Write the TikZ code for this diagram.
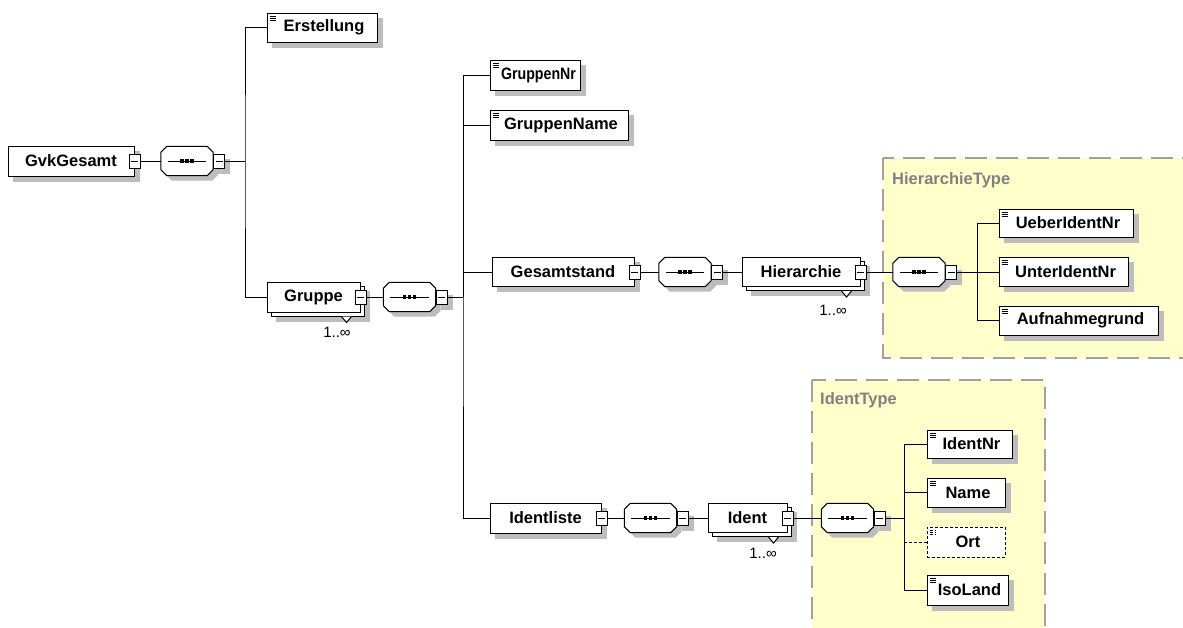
\documentclass[tikz,border=0pt]{standalone}
\usepackage{fontspec}
\setmainfont{Liberation Sans}
\definecolor{typefill}{HTML}{FFFFCC}
\definecolor{typeline}{HTML}{A0A0A0}
\definecolor{shadowgray}{HTML}{BDBDBD}
\definecolor{labelgray}{HTML}{808080}
\pgfdeclarelayer{typelayer}
\pgfdeclarelayer{shadowlayer}
\pgfsetlayers{typelayer,shadowlayer,main}
\newcommand\elfont{\bfseries\fontsize{16.5}{18}\selectfont}
\newcommand\multfont{\fontsize{15}{16}\selectfont}
\tikzset{
  elbox/.style={draw, fill=white, line width=1pt, minimum height=29, inner sep=0pt, font=\elfont},
  elicon/.style={path picture={\foreach \k in {3,5,7} \draw[line width=0.8pt] ([shift={(2.5,\k)}]path picture bounding box.north west) -- ++(6,0);}},
  minusbox/.style={draw, fill=white, line width=1pt, minimum width=11, minimum height=14, inner sep=0pt,
    path picture={\draw[line width=1pt] ([xshift=2]path picture bounding box.west) -- ([xshift=-2]path picture bounding box.east);}},
  seqbox/.style={minimum width=52, minimum height=29, inner sep=0pt},
  typebox/.style={fill=typefill, draw=typeline, line width=1.5pt, dash pattern=on 22pt off 9pt},
  typelabel/.style={text=labelgray, font=\elfont, inner sep=0pt},
  mult/.style={font=\multfont, inner sep=0pt},
  conn/.style={line width=1pt},
  optconn/.style={line width=1pt, dash pattern=on 3pt off 2pt},
  shadowfill/.style={fill=shadowgray},
}
\newcommand\elshadow[1]{%
  \begin{pgfonlayer}{shadowlayer}
    \fill[shadowfill] ([shift={(5,5)}]#1.north west) rectangle ([shift={(5,5)}]#1.south east);
  \end{pgfonlayer}}
\newcommand\octa[3]{%
  \path[#3] ([shift={(#2+6,#2)}]#1.north west) -- ([shift={(#2-6,#2)}]#1.north east)
    -- ([shift={(#2,#2+6)}]#1.north east) -- ([shift={(#2,#2-6)}]#1.south east)
    -- ([shift={(#2-6,#2)}]#1.south east) -- ([shift={(#2+6,#2)}]#1.south west)
    -- ([shift={(#2,#2-6)}]#1.south west) -- ([shift={(#2,#2+6)}]#1.north west) -- cycle;}
\newcommand\seqgroup[3]{%
  \node[seqbox] (#1) at (#2,#3) {};
  \begin{pgfonlayer}{shadowlayer}\octa{#1}{5}{shadowfill}\end{pgfonlayer}
  \octa{#1}{0}{draw, fill=white, line width=1pt}
  \draw[line width=1pt] ([xshift=7]#1.west) -- ([xshift=-7]#1.east);
  \foreach \d in {-5,0,5}{\fill ([xshift=\d]#1.center) ++(-1.8,-1.8) rectangle ++(3.6,3.6);}
  \node[minusbox, anchor=west] (#1m) at (#1.east) {};
  \elshadow{#1m}}
\newcommand\multtri[1]{\draw[line width=1pt, fill=white] ([xshift=-23]#1.south east) -- ++(5,6) -- ++(5,-6);}
\begin{document}
\begin{tikzpicture}[x=1pt,y=-1pt]
\useasboundingbox (0,0) rectangle (1183,627);
% type containers
\begin{pgfonlayer}{typelayer}
\begin{scope}
  \clip (0,0) rectangle (1183,627);
  \draw[typebox] (883,158) rectangle (1200,358);
  \draw[typebox] (812,380) rectangle (1045,650);
\end{scope}
\end{pgfonlayer}
\node[typelabel, anchor=west] (htlabel) at (892,180) {HierarchieType};
\node[typelabel, anchor=west] (itlabel) at (820,400) {IdentType};

% root
\node[elbox, minimum width=126, minimum height=30] (gvk) at (71,161) {GvkGesamt};
\elshadow{gvk}
\node[minusbox] (gvkm) at (gvk.east) {};
\seqgroup{s1}{187}{161}
\coordinate (b1) at (245,161);

\node[elbox, elicon, minimum width=110] (erst) at (322,27.5) {\hspace*{4pt}Erstellung};
\elshadow{erst}
\node[elbox, minimum width=93, minimum height=30] (gruppeB) at (317.5,301) {};
\elshadow{gruppeB}
\node[elbox, minimum width=93, minimum height=30] (gruppe) at (313.5,297) {Gruppe};
\node[minusbox] (gruppem) at (gruppe.east) {};
\multtri{gruppeB}
\node[mult] (gruppeml) at (337,332) {1..∞};

\draw[conn] (gvkm.east) -- (s1.west);
\draw[conn] (s1m.east) -- (b1);
\draw[conn] (erst.west) -| (b1) |- (gruppe.west);

% Gruppe content
\seqgroup{s2}{409.5}{297}
\coordinate (b2) at (463,297);
\draw[conn] (gruppem.east) -- (s2.west);
\draw[conn] (s2m.east) -- (b2);

\node[elbox, elicon, minimum width=90, minimum height=30] (gnr) at (535,75) {\hspace*{7pt}\scalebox{0.86}[1]{GruppenNr}};
\elshadow{gnr}
\node[elbox, elicon, minimum width=138, minimum height=30] (gname) at (559,125) {\hspace*{4pt}GruppenName};
\elshadow{gname}
\node[elbox, minimum width=142] (gstand) at (563,272) {Gesamtstand};
\elshadow{gstand}
\node[minusbox] (gstandm) at (gstand.east) {};
\node[elbox, minimum width=111, minimum height=30] (idl) at (545.5,518) {Identliste};
\elshadow{idl}
\node[minusbox] (idlm) at (idl.east) {};

\draw[conn] (gnr.west) -| (b2) |- (idl.west);
\draw[conn] (gname.west) -| (b2);
\draw[conn] (gstand.west) -| (b2);

% Gesamtstand branch
\seqgroup{s3}{685}{272}
\draw[conn] (gstandm.east) -- (s3.west);
\node[elbox, minimum width=118] (hierB) at (805,276) {};
\elshadow{hierB}
\node[elbox, minimum width=118] (hier) at (801,272) {Hierarchie};
\node[minusbox] (hierm) at (hier.east) {};
\multtri{hierB}
\node[mult] (hierml) at (833,310) {1..∞};
\draw[conn] (s3m.east) -- (hier.west);

\seqgroup{s4}{919}{272}
\coordinate (b3) at (977,272);
\draw[conn] (hierm.east) -- (s4.west);
\draw[conn] (s4m.east) -- (b3);
\node[elbox, elicon, minimum width=134, minimum height=28] (ueber) at (1066,223) {\hspace*{4pt}UeberIdentNr};
\elshadow{ueber}
\node[elbox, elicon, minimum width=129] (unter) at (1063.5,272) {\hspace*{4pt}UnterIdentNr};
\elshadow{unter}
\node[elbox, elicon, minimum width=159] (aufn) at (1078.5,320.5) {\hspace*{4pt}Aufnahmegrund};
\elshadow{aufn}
\draw[conn] (ueber.west) -| (b3) |- (aufn.west);
\draw[conn] (unter.west) -- (b3);

% Identliste branch
\seqgroup{s5}{650.5}{518}
\draw[conn] (idlm.east) -- (s5.west);
\node[elbox, minimum width=79] (identB) at (751.5,522) {};
\elshadow{identB}
\node[elbox, minimum width=79] (ident) at (747.5,518) {Ident};
\node[minusbox] (identm) at (ident.east) {};
\multtri{identB}
\node[mult] (identml) at (763,553) {1..∞};
\draw[conn] (s5m.east) -- (ident.west);

\seqgroup{s6}{847.5}{518}
\coordinate (b4) at (904,518);
\draw[conn] (identm.east) -- (s6.west);
\draw[conn] (s6m.east) -- (b4);
\node[elbox, elicon, minimum width=85, minimum height=28] (identnr) at (969.5,444) {\hspace*{4pt}IdentNr};
\elshadow{identnr}
\node[elbox, elicon, minimum width=78] (name) at (966,492.5) {\hspace*{4pt}Name};
\elshadow{name}
\node[elbox, elicon, dash pattern=on 3pt off 2pt, minimum width=78, minimum height=30] (ort) at (966,542) {\hspace*{4pt}Ort};
\node[elbox, elicon, minimum width=81, minimum height=30] (iso) at (967.5,590) {\hspace*{4pt}IsoLand};
\elshadow{iso}
\draw[conn] (identnr.west) -| (b4) |- (iso.west);
\draw[conn] (name.west) -| (b4);
\draw[optconn] (ort.west) -- (ort.west -| b4);
\end{tikzpicture}
\end{document}
